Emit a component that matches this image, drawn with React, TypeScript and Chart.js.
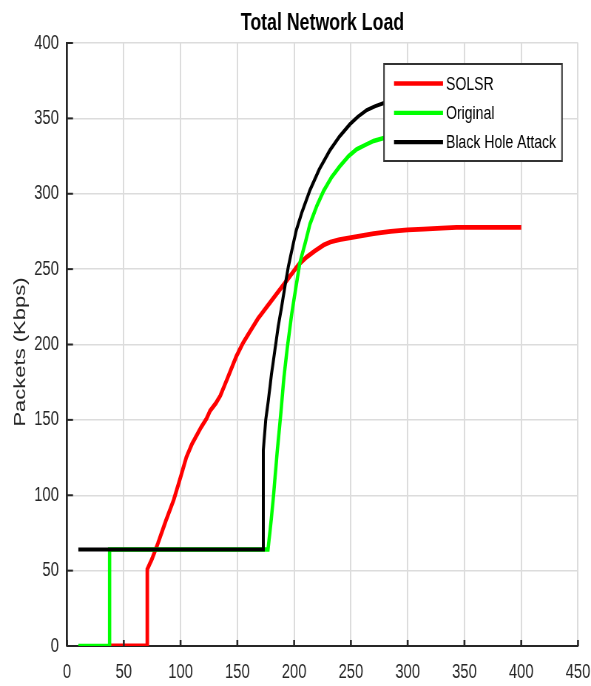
import { useEffect, useRef } from "react";
import { Chart, registerables } from "chart.js";

Chart.register(...registerables);

// ---- chart content ----
const chartTitle = "Total Network Load";
const yAxisTitle = "Packets (Kbps)";
const seriesNames = ["SOLSR", "Original", "Black Hole Attack"];
const seriesColors = ["#ff0000", "#00ff00", "#000000"];

const xTickValues = [0, 50, 100, 150, 200, 250, 300, 350, 400, 450];
const yTickValues = [0, 50, 100, 150, 200, 250, 300, 350, 400];

const solsrX = [38, 70.7, 70.7, 75, 80, 87, 94, 100, 105, 110, 118, 123, 126, 131, 135, 141, 149, 155, 161, 168, 176, 185, 194, 204, 211, 218, 226, 232, 240, 255, 270, 285, 300, 314, 330, 343, 370, 400];
const solsrY = [0, 0, 51, 58, 68, 83, 97, 112, 125, 134, 145, 151, 156, 161, 166, 177, 192, 201, 208.5, 217, 225, 234, 243, 253, 258, 262, 266, 268, 269.5, 271.5, 273.5, 275, 276, 276.6, 277.2, 277.7, 277.7, 277.7];

const originalX = [10, 37.5, 37.5, 177, 180, 182, 185, 188, 191, 194, 198, 202, 205, 210, 214, 220, 226, 233, 240, 248, 255, 263, 270, 279, 300, 350, 400];
const originalY = [0, 0, 64, 64, 85, 101, 128, 152, 178, 198, 221, 240, 254, 268, 280, 292, 302, 311, 318, 325, 329.5, 332.5, 335, 337, 339, 341, 342];

const attackX = [10, 172.9, 172.9, 175, 177.3, 180, 183, 186, 189, 192, 195, 199, 202, 207, 214, 222, 231.6, 240, 249, 256, 264, 271, 278.5, 300, 350, 400];
const attackY = [64, 64, 130, 150, 163, 180, 196, 212, 225, 239, 252, 266, 276, 288, 302.5, 316, 329, 338, 346, 351, 355.5, 358, 360, 364, 368, 370];

// ---- drawing setup ----
// The figure is drawn on a wider canvas and compressed horizontally.
const CANVAS_W = 799;
const CANVAS_H = 686;
const SQUISH = 591 / CANVAS_W;
const sx = (v: number) => v / SQUISH;

const AXIS_COLOR = "#262626";
const TEXT_COLOR = "#262626";
const GRID_COLOR = "#dcdcdc";
const FONT = "'Liberation Sans', Arial, Helvetica, sans-serif";

const toPoints = (xs: number[], ys: number[]) => xs.map((x, i) => ({ x, y: ys[i] }));

const overlayPlugin = {
  id: "figureOverlay",
  afterDraw(chart: any) {
    const ctx: CanvasRenderingContext2D = chart.ctx;
    const { left, right, bottom } = chart.chartArea;
    const xs = chart.scales.x;
    const ys = chart.scales.y;
    ctx.save();

    // inward tick marks
    ctx.strokeStyle = AXIS_COLOR;
    ctx.lineWidth = 2.6;
    xTickValues.forEach((v) => {
      const x = xs.getPixelForValue(v);
      ctx.beginPath();
      ctx.moveTo(x, bottom);
      ctx.lineTo(x, bottom - 6);
      ctx.stroke();
    });
    ctx.lineWidth = 2;
    yTickValues.forEach((v) => {
      const y = ys.getPixelForValue(v);
      ctx.beginPath();
      ctx.moveTo(left, y);
      ctx.lineTo(left + sx(6), y);
      ctx.stroke();
    });

    // title
    ctx.fillStyle = "#000000";
    ctx.font = `bold 24px ${FONT}`;
    ctx.textAlign = "center";
    ctx.textBaseline = "alphabetic";
    ctx.fillText(chartTitle, (left + right) / 2, 30);

    // y axis title
    ctx.save();
    ctx.translate(sx(21), 352);
    ctx.rotate(-Math.PI / 2);
    ctx.fillStyle = TEXT_COLOR;
    ctx.font = `22px ${FONT}`;
    ctx.textAlign = "center";
    ctx.textBaseline = "middle";
    ctx.fillText(yAxisTitle, 0, 0);
    ctx.restore();

    // legend box
    const bx = sx(384);
    const by = 64;
    const bw = sx(562 - 384);
    const bh = 97;
    ctx.fillStyle = "#ffffff";
    ctx.fillRect(bx, by, bw, bh);
    ctx.strokeStyle = "#333333";
    ctx.lineWidth = 2;
    ctx.strokeRect(bx, by, bw, bh);
    ctx.font = `19px ${FONT}`;
    ctx.textAlign = "left";
    ctx.textBaseline = "middle";
    seriesNames.forEach((name, i) => {
      const y = 83.5 + i * 29.3;
      ctx.strokeStyle = seriesColors[i];
      ctx.lineWidth = 4.3;
      ctx.beginPath();
      ctx.moveTo(sx(394), y);
      ctx.lineTo(sx(443), y);
      ctx.stroke();
      ctx.fillStyle = "#000000";
      ctx.fillText(name, sx(446), y + 1);
    });

    ctx.restore();
  },
};

export default function App() {
  const canvasRef = useRef<HTMLCanvasElement | null>(null);

  useEffect(() => {
    const canvas = canvasRef.current;
    if (!canvas) return;
    const chart = new Chart(canvas, {
      type: "line",
      data: {
        datasets: [
          {
            label: seriesNames[0],
            data: toPoints(solsrX, solsrY),
            borderColor: seriesColors[0],
            borderWidth: 4.8,
            order: 3,
          },
          {
            label: seriesNames[1],
            data: toPoints(originalX, originalY),
            borderColor: seriesColors[1],
            borderWidth: 4.5,
            order: 2,
          },
          {
            label: seriesNames[2],
            data: toPoints(attackX, attackY),
            borderColor: seriesColors[2],
            borderWidth: 4.0,
            order: 1,
          },
        ],
      },
      options: {
        responsive: false,
        animation: false,
        devicePixelRatio: 1,
        layout: { padding: { left: 0, top: 43, right: CANVAS_W - sx(578), bottom: 0 } },
        elements: { point: { radius: 0 }, line: { tension: 0, fill: false } },
        plugins: {
          legend: { display: false },
          title: { display: false },
          tooltip: { enabled: false },
        },
        scales: {
          x: {
            type: "linear",
            min: 0,
            max: 450,
            afterBuildTicks: (s: any) => {
              s.ticks = xTickValues.map((v) => ({ value: v }));
            },
            afterFit: (s: any) => {
              s.height = CANVAS_H - 646;
              s.paddingLeft = 0;
              s.paddingRight = 0;
            },
            grid: { color: GRID_COLOR, lineWidth: 2, drawTicks: false },
            border: { color: AXIS_COLOR, width: 2 },
            ticks: {
              padding: 14,
              color: TEXT_COLOR,
              font: { family: FONT, size: 20 },
              maxRotation: 0,
              autoSkip: false,
            },
          },
          y: {
            type: "linear",
            min: 0,
            max: 400,
            afterBuildTicks: (s: any) => {
              s.ticks = yTickValues.map((v) => ({ value: v }));
            },
            afterFit: (s: any) => {
              s.width = sx(67);
              s.paddingTop = 0;
              s.paddingBottom = 0;
            },
            grid: { color: GRID_COLOR, lineWidth: 1.5, drawTicks: false },
            border: { color: AXIS_COLOR, width: 2.7 },
            ticks: {
              padding: 11,
              color: TEXT_COLOR,
              font: { family: FONT, size: 20 },
              autoSkip: false,
            },
          },
        },
      },
      plugins: [overlayPlugin],
    });
    return () => chart.destroy();
  }, []);

  return (
    <div
      style={{
        position: "fixed",
        left: 0,
        top: 0,
        width: 591,
        height: 686,
        overflow: "hidden",
        background: "#ffffff",
      }}
    >
      <div style={{ width: CANVAS_W, height: CANVAS_H, transform: `scaleX(${SQUISH})`, transformOrigin: "0 0" }}>
        <canvas ref={canvasRef} width={CANVAS_W} height={CANVAS_H} style={{ display: "block" }} />
      </div>
    </div>
  );
}
